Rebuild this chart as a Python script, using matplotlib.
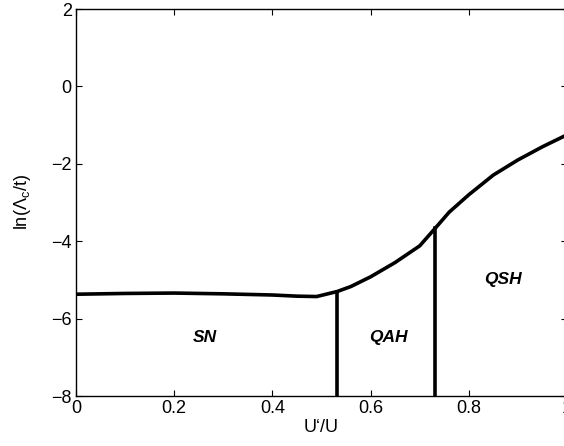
import numpy as np
import matplotlib
matplotlib.use('Agg')
import matplotlib.pyplot as plt

plt.rcParams['font.family'] = ['Liberation Sans', 'DejaVu Sans']
plt.rcParams['mathtext.fontset'] = 'custom'
plt.rcParams['mathtext.rm'] = 'Liberation Sans'

# ---------------------- phase boundary data ----------------------
u_ratio = [0.0, 0.1, 0.2, 0.3, 0.4, 0.45, 0.49, 0.532, 0.56, 0.6, 0.65,
           0.7, 0.732, 0.76, 0.8, 0.85, 0.9, 0.95, 1.0]
ln_lambda = [-5.37, -5.35, -5.34, -5.36, -5.39, -5.42, -5.43, -5.30, -5.17,
             -4.92, -4.55, -4.12, -3.66, -3.25, -2.80, -2.29, -1.90, -1.56, -1.25]

# vertical boundaries between phases
sep_x = [0.532, 0.732]

phase_names = ['SN', 'QAH', 'QSH']
phase_x = [0.262, 0.637, 0.869]
phase_y = [-6.50, -6.50, -4.98]

# ------------------------------------------------------------------
fig = plt.figure(figsize=(5.64, 4.46), dpi=100)
ax = fig.add_axes([0.1348, 0.1121, 0.8705, 0.8677])

ax.plot(u_ratio, ln_lambda, color='black', linewidth=2.6, solid_joinstyle='round')
for xs in sep_x:
    ytop = np.interp(xs, u_ratio, ln_lambda)
    ax.plot([xs, xs], [-8, ytop], color='black', linewidth=2.6)

for name, xt, yt in zip(phase_names, phase_x, phase_y):
    ax.text(xt, yt, name, fontsize=12.5, fontweight='bold', fontstyle='italic',
            ha='center', va='center')

ax.set_xlim(0, 1)
ax.set_ylim(-8, 2)
ax.set_xticks([0, 0.2, 0.4, 0.6, 0.8, 1.0])
ax.set_xticklabels(['0', '0.2', '0.4', '0.6', '0.8', '1'])
ax.set_yticks([-8, -6, -4, -2, 0, 2])
ax.set_yticklabels(['\u22128', '\u22126', '\u22124', '\u22122', '0', '2'])
ax.tick_params(direction='in', top=True, right=True, length=4, width=0.8,
               labelsize=13, pad=3)
for sp in ax.spines.values():
    sp.set_linewidth(1.0)

ax.set_xlabel('U\u2018/U', fontsize=13, labelpad=1)
ax.set_ylabel('ln(\u039b$\\mathregular{_c}$/t)', fontsize=13, labelpad=13)

fig.savefig('out.png', dpi=100)
